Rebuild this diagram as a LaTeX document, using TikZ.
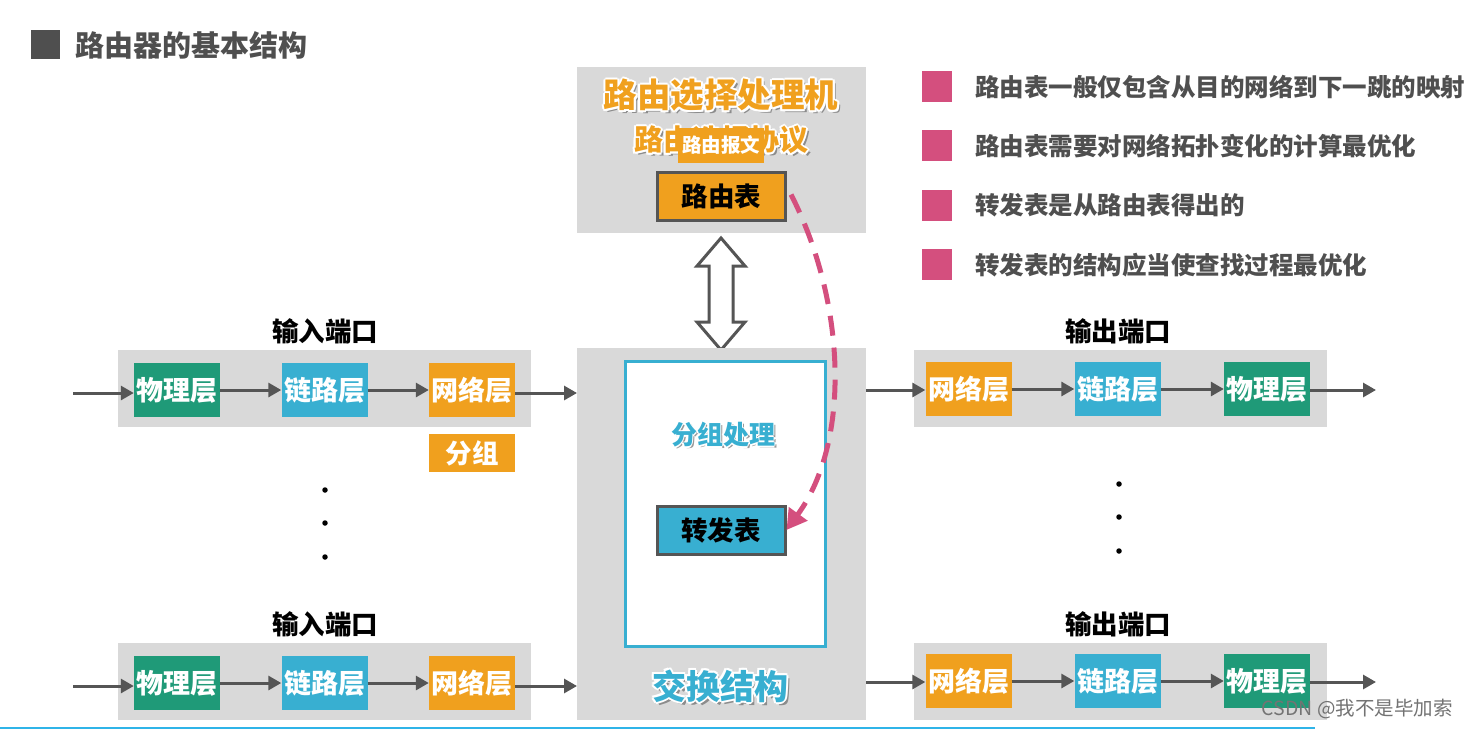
\documentclass[tikz,border=0pt]{standalone}
\usepackage{fontspec}
\setmainfont{Noto Sans CJK SC}
\usetikzlibrary{arrows.meta}
\definecolor{grn}{HTML}{1F9A78}
\definecolor{cyn}{HTML}{38AFD1}
\definecolor{org}{HTML}{F0A01E}
\definecolor{panelgray}{HTML}{D9D9D9}
\definecolor{arrowgray}{HTML}{555555}
\definecolor{pnk}{HTML}{D44F7E}
\definecolor{txtgray}{HTML}{4F4F4F}
\definecolor{lineblue}{HTML}{2FB4E8}
\tikzset{
  panel/.style={fill=panelgray, draw=none},
  layer/.style={minimum width=86pt, minimum height=54pt, inner sep=0pt, text=white, font=\fontsize{27}{27}\selectfont\bfseries},
  flow/.style={draw=arrowgray, line width=3pt, -{Triangle[length=13pt,width=14pt]}},
  portlabel/.style={inner sep=0pt, text=black, font=\fontsize{26.5}{26.5}\selectfont\bfseries},
  tablebox/.style={draw=arrowgray, line width=3pt, minimum width=128pt, minimum height=48pt, inner sep=0pt, text=black, font=\fontsize{26.5}{26.5}\selectfont\bfseries},
  bulletsq/.style={fill=pnk, minimum width=30pt, minimum height=31pt, inner sep=0pt},
  bullettext/.style={anchor=west, inner sep=0pt, text=txtgray, font=\fontsize{24.5}{24.5}\selectfont\bfseries},
  dotn/.style={circle, fill=black, minimum size=5.5pt, inner sep=0pt},
}
\begin{document}
\begin{tikzpicture}[x=1pt,y=-1pt]
\useasboundingbox (0,0) rectangle (1467,729);
\fill[white] (0,0) rectangle (1467,729);

% title
\node[fill=txtgray, minimum width=29pt, minimum height=29pt, inner sep=0pt] (tsq) at (45.5,44.5) {};
\node[anchor=west, inner sep=0pt, text=txtgray, font=\fontsize{29}{29}\selectfont\bfseries] (title) at (75,45) {路由器的基本结构};

% routing processor
\fill[panel] (577,67) rectangle (866,233);
\coordinate (rpc) at (721,95);
\node[text=black!45, font=\fontsize{33.5}{33.5}\selectfont\bfseries] at (724,98) {路由选择处理机};
\foreach \dx/\dy in {-2/0,2/0,0/-2,0/2,-1.5/-1.5,1.5/1.5,-1.5/1.5,1.5/-1.5}
  \node[text=white, font=\fontsize{33.5}{33.5}\selectfont\bfseries] at (721+\dx,95+\dy) {路由选择处理机};
\node[text=org, font=\fontsize{33.5}{33.5}\selectfont\bfseries] (rptitle) at (rpc) {路由选择处理机};

\node[text=black!45, font=\fontsize{29}{29}\selectfont\bfseries] at (724,143) {路由选择协议};
\foreach \dx/\dy in {-2/0,2/0,0/-2,0/2,-1.5/-1.5,1.5/1.5,-1.5/1.5,1.5/-1.5}
  \node[text=white, font=\fontsize{29}{29}\selectfont\bfseries] at (721+\dx,140+\dy) {路由选择协议};
\node[text=org, font=\fontsize{29}{29}\selectfont\bfseries] (rproto) at (721,140) {路由选择协议};
\node[fill=org, minimum width=86pt, minimum height=35pt, inner sep=0pt, text=white, font=\fontsize{19.5}{19.5}\selectfont\bfseries] (rmsg) at (721,145.5) {路由报文};

\node[tablebox, fill=org] (rtable) at (721.5,196.5) {路由表};

% double hollow arrow
\draw[arrowgray, line width=3pt, fill=white, line join=miter]
  (721,238) -- (745,266) -- (733,266) -- (733,322) -- (745,322) -- (721,350)
  -- (697,322) -- (709,322) -- (709,266) -- (697,266) -- cycle;

% switch fabric
\fill[panel] (577,348) rectangle (866,720);
\node[draw=cyn, line width=3pt, fill=white, minimum width=200pt, minimum height=285pt, inner sep=0pt] (proc) at (725.5,504) {};
\node[text=black!40, font=\fontsize{26}{26}\selectfont\bfseries] at (725,437) {分组处理};
\foreach \dx/\dy in {-1.5/0,1.5/0,0/-1.5,0/1.5}
  \node[text=white, font=\fontsize{26}{26}\selectfont\bfseries] at (723+\dx,435+\dy) {分组处理};
\node[text=cyn, font=\fontsize{26}{26}\selectfont\bfseries] (ptitle) at (723,435) {分组处理};
\node[tablebox, fill=cyn] (ftable) at (721,530) {转发表};

\node[text=black!45, font=\fontsize{34}{34}\selectfont\bfseries] at (723,689) {交换结构};
\foreach \dx/\dy in {-2/0,2/0,0/-2,0/2,-1.5/-1.5,1.5/1.5,-1.5/1.5,1.5/-1.5}
  \node[text=white, font=\fontsize{34}{34}\selectfont\bfseries] at (720+\dx,686+\dy) {交换结构};
\node[text=cyn, font=\fontsize{34}{34}\selectfont\bfseries] (sftitle) at (720,686) {交换结构};

% pink dashed arrow
\draw[pnk, line width=5pt, dash pattern=on 20pt off 12pt, -{Triangle[length=20pt,width=22pt]}]
  (rtable.east) ++(4,-2) .. controls (845,300) and (852,440) .. (ftable.east);

% ---- input ports ----
\foreach \r/\yc/\gy in {1/390/350, 2/683/643} {
  \fill[panel] (118,\gy) rectangle (531,\gy+77);
  \node[portlabel] (inlab\r) at (325,\gy-19) {输入端口};
  \node[layer, fill=grn] (ip\r) at (177,\yc) {物理层};
  \node[layer, fill=cyn] (il\r) at (324.5,\yc) {链路层};
  \node[layer, fill=org] (in\r) at (472,\yc) {网络层};
  \coordinate (isrc\r) at (73,\yc+3);
  \coordinate (idst\r) at (577,\yc+3);
  \draw[flow] (isrc\r) -- (isrc\r -| ip\r.west);
  \draw[flow] (ip\r.east) -- (il\r.west);
  \draw[flow] (il\r.east) -- (in\r.west);
  \draw[flow] (in\r.east |- idst\r) -- (idst\r);
}
\node[fill=org, minimum width=86pt, minimum height=38pt, inner sep=0pt, text=white, font=\fontsize{26.5}{26.5}\selectfont\bfseries] (pkt) at (472,453) {分组};
\node[dotn] (ld1) at (325,490) {};
\node[dotn] (ld2) at (325,523) {};
\node[dotn] (ld3) at (325,557) {};

% ---- output ports ----
\foreach \r/\yc/\gy in {1/389/350, 2/681/643} {
  \fill[panel] (914,\gy) rectangle (1327,\gy+77);
  \node[portlabel] (outlab\r) at (1118,\gy-19) {输出端口};
  \node[layer, fill=org] (on\r) at (968.5,\yc) {网络层};
  \node[layer, fill=cyn] (ol\r) at (1117.5,\yc) {链路层};
  \node[layer, fill=grn] (op\r) at (1267,\yc) {物理层};
  \coordinate (osrc\r) at (866,\yc+1);
  \coordinate (odst\r) at (1376,\yc+1);
  \draw[flow] (osrc\r) -- (osrc\r -| on\r.west);
  \draw[flow] (on\r.east) -- (ol\r.west);
  \draw[flow] (ol\r.east) -- (op\r.west);
  \draw[flow] (op\r.east |- odst\r) -- (odst\r);
}
\node[dotn] (rd1) at (1119,484) {};
\node[dotn] (rd2) at (1119,517) {};
\node[dotn] (rd3) at (1119,551) {};

% ---- bullets ----
\node[bulletsq] (b1) at (937,86) {};
\node[bullettext] (t1) at (975,87) {路由表一般仅包含从目的网络到下一跳的映射};
\node[bulletsq] (b2) at (937,145) {};
\node[bullettext] (t2) at (975,146) {路由表需要对网络拓扑变化的计算最优化};
\node[bulletsq] (b3) at (937,205) {};
\node[bullettext] (t3) at (975,205) {转发表是从路由表得出的};
\node[bulletsq] (b4) at (937,264) {};
\node[bullettext] (t4) at (975,265) {转发表的结构应当使查找过程最优化};

% watermark and bottom line
\node[anchor=east, inner sep=0pt, text=black!55, font=\fontsize{19.5}{19.5}\selectfont] (wm) at (1453,709) {CSDN @我不是毕加索};
\draw[lineblue, line width=2pt] (0,727.5) -- (1315,727.5);
\end{tikzpicture}
\end{document}
